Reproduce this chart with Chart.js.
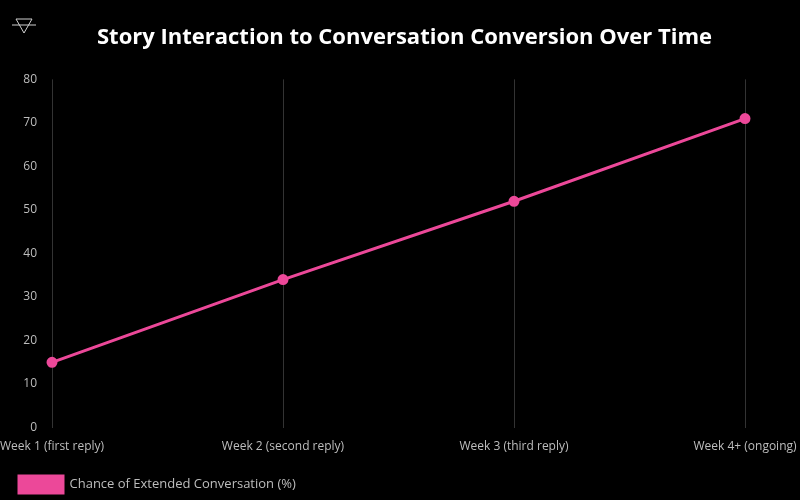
<!DOCTYPE html>
<html>
<head>
<meta charset="utf-8">
<script src="https://cdn.jsdelivr.net/npm/chart.js"></script>
<style>
  html, body { margin: 0; padding: 0; background: #000; }
  #wrap { width: 800px; height: 500px; position: relative; }
</style>
</head>
<body>
<div id="wrap"><canvas id="chart"></canvas></div>
<script>
const weeks = ['Week 1 (first reply)', 'Week 2 (second reply)', 'Week 3 (third reply)', 'Week 4+ (ongoing)'];
const chancePct = [15, 34, 52, 71];
const seriesLabel = 'Chance of Extended Conversation (%)';

// small earth-triangle glyph in the top left corner
const cornerIcon = {
  id: 'cornerIcon',
  afterDraw(chart) {
    const c = chart.ctx;
    c.save();
    c.strokeStyle = '#cfcfcf';
    c.lineWidth = 1;
    c.beginPath();
    c.moveTo(16, 19); c.lineTo(32, 19); c.lineTo(24, 33); c.closePath();
    c.moveTo(12, 25); c.lineTo(36, 25);
    c.stroke();
    c.restore();
  }
};

Chart.defaults.font.family = "'Open Sans', 'Noto Sans', sans-serif";

new Chart(document.getElementById('chart'), {
  type: 'line',
  data: {
    labels: weeks,
    datasets: [{
      label: seriesLabel,
      data: chancePct,
      borderColor: '#ec4899',
      backgroundColor: '#ec4899',
      borderWidth: 3,
      pointRadius: 4,
      pointBackgroundColor: '#ec4899',
      tension: 0
    }]
  },
  options: {
    responsive: true,
    maintainAspectRatio: false,
    animation: false,
    layout: { padding: { top: 4, right: 0, left: 9, bottom: -3 } },
    plugins: {
      title: {
        display: true,
        text: 'Story Interaction to Conversation Conversion Over Time',
        color: '#ffffff',
        font: { size: 22, weight: 'bold' },
        padding: { top: 21, bottom: 28 }
      },
      legend: {
        position: 'bottom',
        align: 'start',
        labels: {
          color: '#bdbdbd',
          font: { size: 13 },
          boxWidth: 44,
          boxHeight: 17,
          padding: 10
        }
      }
    },
    scales: {
      x: {
        grid: { color: '#333333', drawTicks: false },
        border: { display: false },
        ticks: { color: '#bdbdbd', font: { size: 12 }, padding: 12, maxRotation: 0 },
        afterFit(scale) {
          // keep the end categories where the original had them
          scale.paddingLeft = 52;
          scale.paddingRight = 55;
        }
      },
      y: {
        min: 0,
        max: 80,
        grid: { display: false },
        border: { display: false },
        ticks: { color: '#bdbdbd', font: { size: 12 }, stepSize: 10, padding: 7 },
        afterFit(scale) {
          scale.width = 43;
        }
      }
    }
  },
  plugins: [cornerIcon]
});
</script>
</body>
</html>
